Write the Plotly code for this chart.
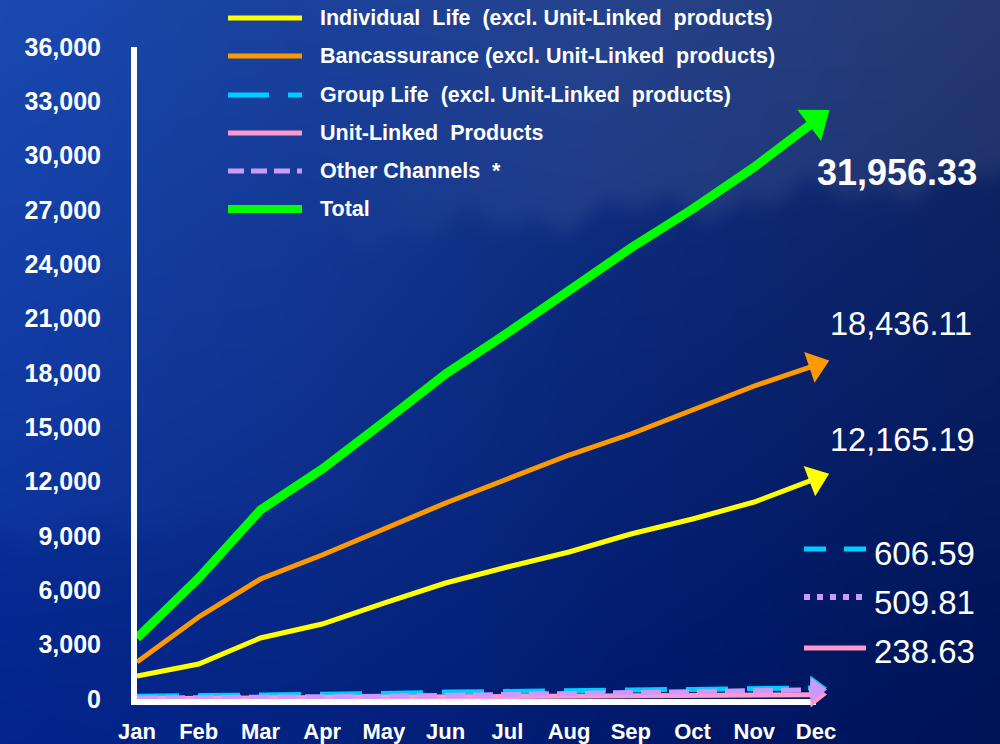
import base64, struct, zlib
import numpy as np
import plotly.graph_objects as go

# ---------------- data ----------------
months = ["Jan", "Feb", "Mar", "Apr", "May", "Jun", "Jul", "Aug", "Sep", "Oct", "Nov", "Dec"]
individual_life = [1270, 1932, 3368, 4141, 5300, 6405, 7288, 8117, 9110, 9939, 10877, 12165.19]
bancassurance = [2043, 4528, 6626, 7951, 9386, 10822, 12147, 13472, 14632, 15957, 17282, 18436.11]
group_life = [150, 180, 250, 270, 300, 380, 400, 480, 500, 530, 560, 606.59]
unit_linked = [15, 30, 50, 70, 90, 110, 130, 150, 180, 200, 220, 238.63]
other_channels = [50, 60, 80, 110, 150, 200, 240, 300, 340, 390, 450, 509.81]
total = [3368, 6681, 10436, 12700, 15295, 17945, 20209, 22583, 24902, 27055, 29374, 31956.33]
y_ticks = list(range(0, 36001, 3000))

names = {
    "ind": "Individual  Life  (excl. Unit-Linked  products)",
    "ban": "Bancassurance (excl. Unit-Linked  products)",
    "grp": "Group Life  (excl. Unit-Linked  products)",
    "ul": "Unit-Linked  Products",
    "oth": "Other Channels  *",
    "tot": "Total",
}

# ---------------- styling ----------------
W, H = 1000, 744
ML, MR, MT, MB = 137, 184, 47, 45
PW, PH = W - ML - MR, H - MT - MB
FONT = "Liberation Sans, Arial, sans-serif"
YEL, ORA, CYA, PNK, PUR, GRN = "#ffff00", "#ff9900", "#00ccff", "#ff99cc", "#cc99ff", "#00ff00"


def px(xp):
    return (xp - ML) / PW


def py(yp):
    return (H - MB - yp) / PH


# ---------------- background image ----------------
def make_bg(w=500, h=372):
    xs = np.linspace(0, 1, w)[None, :, None]
    ys = np.linspace(0, 1, h)[:, None, None]
    tl = np.array([26, 74, 178.0]); tr = np.array([26, 46, 106.0])
    bl = np.array([8, 44, 150.0]); br = np.array([3, 24, 90.0])
    top = tl + (tr - tl) * xs
    bot = bl + (br - bl) * xs
    img = top + (bot - top) * ys
    xx = np.linspace(0, 1, w)[None, :]
    yy = np.linspace(0, 1, h)[:, None]
    ridge = 0.36 - 0.12 * xx + 0.012 * np.sin(xx * 37) + 0.008 * np.sin(xx * 91)
    below = 1 / (1 + np.exp(-(yy - ridge) / 0.008))
    wx = np.clip((xx - 0.3) / 0.3, 0, 1)
    img += ((1 - below) * wx)[..., None] * np.array([12, 10, 6.0])
    img -= (below * wx)[..., None] * np.array([6, 6, 4.0])
    ridge2 = 0.72 - 0.05 * xx + 0.01 * np.sin(xx * 53)
    below2 = 1 / (1 + np.exp(-(yy - ridge2) / 0.01))
    wl = np.clip(1 - xx / 0.5, 0, 1)
    img -= (below2 * wl)[..., None] * np.array([6, 8, 10.0])
    arr = np.clip(img, 0, 255).astype(np.uint8)
    raw = b"".join(b"\x00" + arr[i].tobytes() for i in range(h))

    def chunk(t, d):
        c = struct.pack(">I", len(d)) + t + d
        return c + struct.pack(">I", zlib.crc32(t + d) & 0xFFFFFFFF)

    png = (b"\x89PNG\r\n\x1a\n" + chunk(b"IHDR", struct.pack(">IIBBBBB", w, h, 8, 2, 0, 0, 0))
           + chunk(b"IDAT", zlib.compress(raw, 9)) + chunk(b"IEND", b""))
    return "data:image/png;base64," + base64.b64encode(png).decode()


fig = go.Figure()


def add_series(values, color, width, dash, head):
    n = len(values)
    fig.add_trace(go.Scatter(
        x=months, y=values, mode="lines+markers", showlegend=False, cliponaxis=False,
        line=dict(color=color, width=width, dash=dash),
        marker=dict(symbol="triangle-up", angleref="previous", color=color, opacity=1,
                    size=[0] * (n - 1) + [head], line=dict(width=0)),
        hoverinfo="skip",
    ))


add_series(group_life, CYA, 5, "42px,19px", 22)
add_series(unit_linked, PNK, 5, "solid", 22)
add_series(other_channels, PUR, 5, "20px,8px", 22)
add_series(individual_life, YEL, 5, "solid", 28)
add_series(bancassurance, ORA, 5, "solid", 28)
add_series(total, GRN, 9, "solid", 34)

shapes, annotations = [], []

# custom legend (top)
legend_rows = [
    (names["ind"], YEL, 5, "solid", 18),
    (names["ban"], ORA, 5, "solid", 56),
    (names["grp"], CYA, 5, "41px,19px", 95),
    (names["ul"], PNK, 5, "solid", 133),
    (names["oth"], PUR, 5, "16px,7px", 171),
    (names["tot"], GRN, 8, "solid", 209),
]
for text, color, w, dash, yc in legend_rows:
    shapes.append(dict(type="line", xref="paper", yref="paper", x0=px(228), x1=px(302),
                       y0=py(yc), y1=py(yc), line=dict(color=color, width=w, dash=dash)))
    annotations.append(dict(xref="paper", yref="paper", x=px(318), y=py(yc), xanchor="left",
                            yanchor="middle", text=f"<b>{text}</b>", showarrow=False,
                            font=dict(family=FONT, size=21.5, color="white")))

# end-value labels
annotations.append(dict(xref="paper", yref="paper", x=px(897), y=py(172), xanchor="center", yanchor="middle",
                        text=f"<b>{total[-1]:,.2f}</b>", showarrow=False,
                        font=dict(family=FONT, size=36, color="white")))
annotations.append(dict(xref="paper", yref="paper", x=px(901), y=py(324), xanchor="center", yanchor="middle",
                        text=f"{bancassurance[-1]:,.2f}", showarrow=False,
                        font=dict(family=FONT, size=32.5, color="white")))
annotations.append(dict(xref="paper", yref="paper", x=px(902), y=py(440), xanchor="center", yanchor="middle",
                        text=f"{individual_life[-1]:,.2f}", showarrow=False,
                        font=dict(family=FONT, size=32.5, color="white")))

# mini legend for the small series
mini_rows = [
    (group_life[-1], CYA, 5, "22px,18px", 549, 553),
    (other_channels[-1], PUR, 6, "6px,7px", 597, 602),
    (unit_linked[-1], PNK, 5, "solid", 648, 651),
]
for val, color, w, dash, yl, yt in mini_rows:
    shapes.append(dict(type="line", xref="paper", yref="paper", x0=px(804), x1=px(866),
                       y0=py(yl), y1=py(yl), line=dict(color=color, width=w, dash=dash)))
    annotations.append(dict(xref="paper", yref="paper", x=px(872), y=py(yt), xanchor="left",
                            yanchor="middle", text=f"{val:,.2f}", showarrow=False,
                            font=dict(family=FONT, size=33, color="white")))

fig.update_layout(
    width=W, height=H,
    margin=dict(l=ML, r=MR, t=MT, b=MB, pad=0, autoexpand=False),
    paper_bgcolor="#0a2d8c", plot_bgcolor="rgba(0,0,0,0)",
    font=dict(family=FONT, color="white"),
    shapes=shapes, annotations=annotations,
    images=[dict(source=make_bg(), xref="paper", yref="paper", x=-ML / PW, y=1 + MT / PH,
                 sizex=W / PW, sizey=H / PH, xanchor="left", yanchor="top",
                 sizing="stretch", layer="below")],
    xaxis=dict(type="category", range=[0, 11], showgrid=False, zeroline=False,
               showline=True, linecolor="white", linewidth=6, ticks="", automargin=False,
               ticklabelstandoff=8, layer="below traces",
               tickfont=dict(family=FONT, size=22, color="white", weight="bold")),
    yaxis=dict(range=[0, 36000], tickvals=y_ticks, tickformat=",d", showgrid=False,
               zeroline=False, showline=True, linecolor="white", linewidth=6, ticks="",
               automargin=False, ticklabelstandoff=25, layer="below traces",
               tickfont=dict(family=FONT, size=25, color="white", weight="bold")),
)

fig.write_html(
    "out.html",
    config={"displayModeBar": False},
    post_script="document.body.style.margin='0';document.body.style.overflow='hidden';",
)
